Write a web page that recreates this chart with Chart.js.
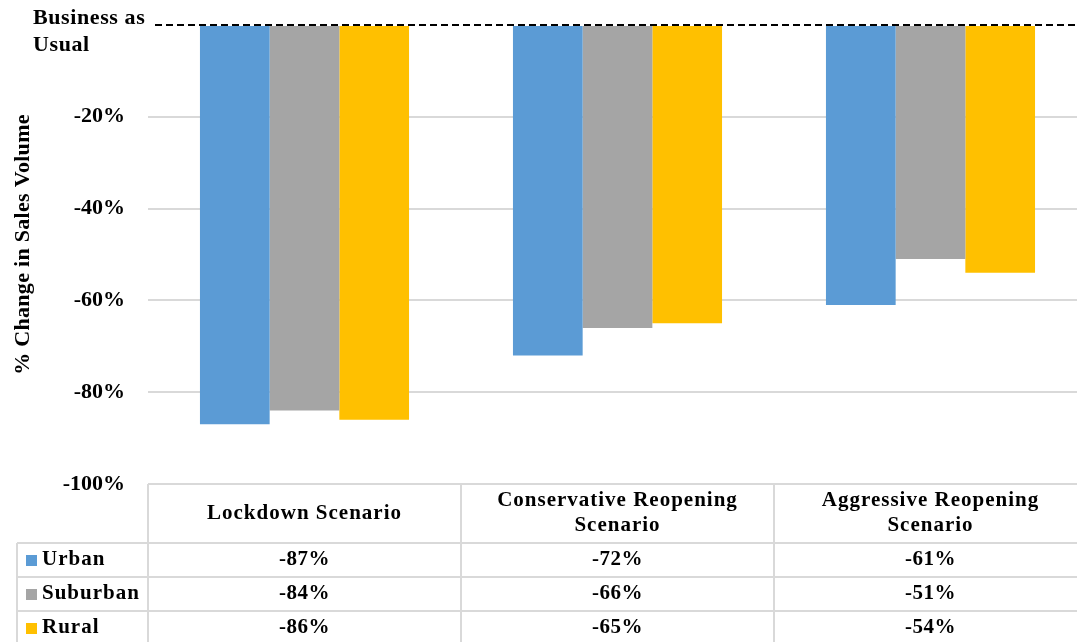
<!DOCTYPE html>
<html>
<head>
<meta charset="utf-8">
<script src="https://cdn.jsdelivr.net/npm/chart.js@4/dist/chart.umd.min.js"></script>
<style>
  html, body { margin: 0; padding: 0; background: #fff; overflow: hidden; }
  #wrap { width: 1077px; height: 642px; position: relative; overflow: hidden; }
  canvas { display: block; }
</style>
</head>
<body>
<div id="wrap"><canvas id="c" width="1087" height="642"></canvas></div>
<script>
const categories = [["Lockdown Scenario"], ["Conservative Reopening", "Scenario"], ["Aggressive Reopening", "Scenario"]];
const seriesNames = ["Urban", "Suburban", "Rural"];
const urban = [-87, -72, -61];
const suburban = [-84, -66, -51];
const rural = [-86, -65, -54];
const seriesColors = ["#5B9BD5", "#A5A5A5", "#FFC000"];
const yTitle = "% Change in Sales Volume";
const baselineLabel = ["Business as", "Usual"];

const FONT = "'Liberation Serif', 'Times New Roman', serif";
const seriesValues = [urban, suburban, rural];

function setSpacing(ctx, v) { try { ctx.letterSpacing = v; } catch (e) {} }

const tablePlugin = {
  id: 'tablePlugin',
  afterDraw(chart) {
    const ctx = chart.ctx;
    const x = chart.scales.x;
    const y = chart.scales.y;
    const area = chart.chartArea;
    const n = categories.length;
    const colW = (x.right - x.left) / n;
    const top = y.getPixelForValue(-100);
    const headerBottom = top + 59;
    const rowH = 34;
    const legendLeft = 17;
    ctx.save();
    // dashed baseline
    const y0 = y.getPixelForValue(0);
    ctx.strokeStyle = '#000';
    ctx.lineWidth = 2;
    ctx.setLineDash([7, 4]);
    ctx.beginPath();
    ctx.moveTo(area.left + 7, y0);
    ctx.lineTo(area.right, y0);
    ctx.stroke();
    ctx.setLineDash([]);

    // baseline label
    ctx.fillStyle = '#000';
    ctx.font = 'bold 22px ' + FONT;
    setSpacing(ctx, '0.6px');
    ctx.textAlign = 'left';
    ctx.textBaseline = 'alphabetic';
    ctx.fillText(baselineLabel[0], 33, 24);
    ctx.fillText(baselineLabel[1], 33, 51);

    // y title
    ctx.save();
    ctx.translate(29, (area.top + area.bottom) / 2 - 10);
    ctx.rotate(-Math.PI / 2);
    ctx.textAlign = 'center';
    ctx.textBaseline = 'alphabetic';
    setSpacing(ctx, '0.3px');
    ctx.fillText(yTitle, 0, 0);
    ctx.restore();

    // table lines
    ctx.strokeStyle = '#d9d9d9';
    ctx.lineWidth = 2;
    ctx.beginPath();
    ctx.moveTo(x.left, top); ctx.lineTo(x.right, top);
    for (let r = 0; r <= seriesNames.length; r++) {
      const yy = headerBottom + r * rowH;
      ctx.moveTo(legendLeft, yy); ctx.lineTo(x.right, yy);
    }
    for (let i = 0; i < n; i++) {
      const xx = x.left + i * colW;
      ctx.moveTo(xx, top); ctx.lineTo(xx, headerBottom + seriesNames.length * rowH);
    }
    ctx.moveTo(legendLeft, headerBottom); ctx.lineTo(legendLeft, headerBottom + seriesNames.length * rowH);
    ctx.stroke();

    // header text
    ctx.fillStyle = '#000';
    ctx.font = 'bold 21px ' + FONT;
    ctx.textAlign = 'center';
    ctx.textBaseline = 'middle';
    setSpacing(ctx, '1px');
    for (let i = 0; i < n; i++) {
      const cx = x.getPixelForValue(i);
      const lines = categories[i];
      const cy = (top + headerBottom) / 2;
      const lh = 25;
      lines.forEach((t, k) => {
        ctx.fillText(t, cx, cy + (k - (lines.length - 1) / 2) * lh);
      });
    }
    // rows
    for (let r = 0; r < seriesNames.length; r++) {
      const cy = headerBottom + r * rowH + rowH / 2;
      ctx.fillStyle = seriesColors[r];
      ctx.fillRect(26, cy - 5, 11, 11);
      ctx.fillStyle = '#000';
      ctx.textAlign = 'left';
      setSpacing(ctx, '1px');
      ctx.fillText(seriesNames[r], 42, cy);
      ctx.textAlign = 'center';
      setSpacing(ctx, '0.5px');
      for (let i = 0; i < n; i++) {
        ctx.fillText(seriesValues[r][i] + '%', x.getPixelForValue(i), cy);
      }
    }
    ctx.restore();
  }
};

new Chart(document.getElementById('c'), {
  type: 'bar',
  data: {
    labels: categories.map(c => c.join(' ')),
    datasets: seriesNames.map((name, i) => ({
      label: name,
      data: seriesValues[i],
      backgroundColor: seriesColors[i],
      borderWidth: 0,
      categoryPercentage: 0.668,
      barPercentage: 1.0
    }))
  },
  options: {
    responsive: false,
    animation: false,
    layout: { padding: { top: 25, bottom: 158, left: 0, right: 0 } },
    plugins: { legend: { display: false }, tooltip: { enabled: false } },
    scales: {
      x: { display: false },
      y: {
        min: -100, max: 0,
        afterFit(scale) {
          scale.width = 148;
          scale.paddingTop = 0;
          scale.paddingBottom = 0;
        },
        border: { display: false },
        grid: {
          drawTicks: false,
          lineWidth: 2,
          color: (c) => (c.tick && (c.tick.value === 0 || c.tick.value === -100)) ? 'rgba(0,0,0,0)' : '#d9d9d9'
        },
        ticks: {
          stepSize: 20,
          padding: 23,
          color: '#000',
          font: { family: FONT, size: 22, weight: 'bold' },
          callback: (v) => v === 0 ? '' : v + '%'
        },
        title: { display: false }
      }
    }
  },
  plugins: [tablePlugin]
});
</script>
</body>
</html>
